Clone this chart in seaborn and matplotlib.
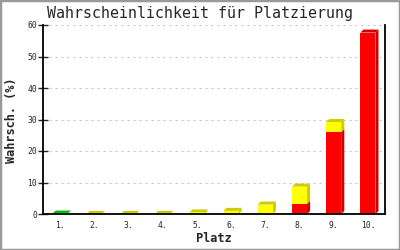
import matplotlib
matplotlib.use("Agg")
import matplotlib.pyplot as plt
import seaborn as sns
import pandas as pd
from matplotlib.patches import Polygon, Rectangle

places = ["1.", "2.", "3.", "4.", "5.", "6.", "7.", "8.", "9.", "10."]
green = [0.15, 0, 0, 0, 0, 0, 0, 0, 0, 0]
red = [0, 0, 0, 0, 0, 0, 0, 3.2, 26.0, 57.6]
yellow = [0, 0.05, 0.05, 0.05, 0.5, 1.0, 3.0, 5.5, 3.2, 0]

sns.set_style("white")
plt.rcParams["font.family"] = ["DejaVu Sans Mono"]

fig = plt.figure(figsize=(4, 2.5), dpi=100)
ax = fig.add_axes([0.1075, 0.144, 0.855, 0.756])

df = pd.DataFrame({"Platz": places, "green": green, "red": red, "yellow": yellow})
bottom_red = df["green"]
bottom_yel = df["green"] + df["red"]

layers = [
    ("green", df["green"], 0, "#00ee00", "#00bb00"),
    ("red", df["red"], bottom_red, "#ff0000", "#cc0000"),
    ("yellow", df["yellow"], bottom_yel, "#ffff00", "#cccc00"),
]

dx, dy = 0.09, 0.95
seg_info = []
for name, vals, bot, front, dark in layers:
    n0 = len(ax.patches)
    sns.barplot(x=df["Platz"], y=vals, bottom=bot, color=front, width=0.44,
                saturation=1, ax=ax, zorder=3, linewidth=0)
    for p in ax.patches[n0:]:
        seg_info.append((p, dark))

tops = {}
for p, dark in seg_info:
    x0 = p.get_x(); w = p.get_width(); b = p.get_y(); h = p.get_height()
    if h <= 0:
        continue
    x1 = x0 + w
    side = Polygon([(x1, b), (x1 + dx, b + dy), (x1 + dx, b + h + dy), (x1, b + h)],
                   closed=True, facecolor=dark, edgecolor="none", zorder=2)
    ax.add_patch(side)
    key = round(x0, 4)
    if key not in tops or b + h >= tops[key][1]:
        tops[key] = (x0, b + h, w, dark)
for key, (x0, t, w, dark) in tops.items():
    top = Polygon([(x0, t), (x0 + dx, t + dy), (x0 + w + dx, t + dy), (x0 + w, t)],
                  closed=True, facecolor=dark, edgecolor="none", zorder=2)
    ax.add_patch(top)

ax.set_xlim(-0.5, 9.5)
ax.set_ylim(0, 60)
ax.set_yticks([0, 10, 20, 30, 40, 50, 60])
ax.yaxis.grid(True, color="#c0c0c0", linestyle=(0, (1.92, 3.84)), linewidth=0.75)
ax.set_axisbelow(True)
for s in ["left", "bottom", "right"]:
    ax.spines[s].set_visible(True)
    ax.spines[s].set_color("black")
    ax.spines[s].set_linewidth(1.3)
    ax.spines[s].set_zorder(5)
ax.spines["top"].set_visible(False)
ax.tick_params(axis="y", direction="inout", length=6.5, width=1, pad=1, labelsize=5.8, left=True)
ax.tick_params(axis="x", length=0, pad=5, labelsize=5.8)
ax.set_xlabel("")
ax.set_ylabel("")

fig.text(0.5, 0.945, "Wahrscheinlichkeit für Platzierung", ha="center", va="center", fontsize=10.8)
fig.text(0.535, 0.045, "Platz", ha="center", va="center", fontsize=8.6, fontweight="bold")
fig.text(0.03, 0.52, "Wahrsch. (%)", ha="center", va="center", rotation=90, fontsize=8.6, fontweight="bold")

fig.patches.append(Rectangle((0, 0), 1, 1, transform=fig.transFigure, fill=False,
                             edgecolor="#999999", linewidth=2.5, zorder=10))

fig.savefig("out.png", dpi=100)
